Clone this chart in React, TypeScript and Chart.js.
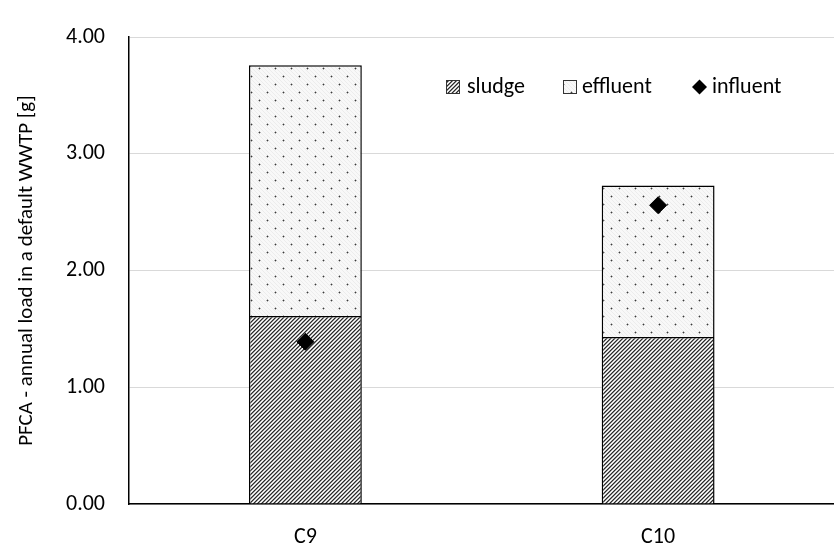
import React, { useEffect, useRef } from "react";
import { Chart, registerables } from "chart.js";

Chart.register(...registerables);

const categories = ["C9", "C10"];
const sludge = [1.61, 1.43];
const effluent = [2.15, 1.30];
const influent = [1.39, 2.56];
const yTicks = [0, 1, 2, 3, 4];
const yTitle = "PFCA - annual load in a default WWTP [g]";
const legendLabels = ["sludge", "effluent", "influent"];

const FONT = "Carlito, Calibri, Lato, sans-serif";

function makeSludgePattern(): CanvasPattern | string {
  const c = document.createElement("canvas");
  c.width = 8;
  c.height = 8;
  const ctx = c.getContext("2d");
  if (!ctx) return "#777";
  const shades = ["#2a2a2a", "#8a8a8a", "#ffffff", "#c8c8c8"];
  for (let x = 0; x < 8; x++) {
    for (let y = 0; y < 8; y++) {
      ctx.fillStyle = shades[(x + y) % 4];
      ctx.fillRect(x, y, 1, 1);
    }
  }
  return ctx.createPattern(c, "repeat") as CanvasPattern;
}

function makeEffluentPattern(): CanvasPattern | string {
  const c = document.createElement("canvas");
  c.width = 16;
  c.height = 16;
  const ctx = c.getContext("2d");
  if (!ctx) return "#f4f4f4";
  for (let x = 0; x < 16; x++) {
    for (let y = 0; y < 16; y++) {
      ctx.fillStyle = (x - y + 32) % 4 === 0 ? "#ececec" : "#f8f8f8";
      ctx.fillRect(x, y, 1, 1);
    }
  }
  const dot = (x: number, y: number) => {
    ctx.fillStyle = "#b0b0b0";
    ctx.fillRect(x - 1, y, 3, 1);
    ctx.fillRect(x, y - 1, 1, 3);
    ctx.fillStyle = "#3a3a3a";
    ctx.fillRect(x, y, 1, 1);
  };
  dot(3, 4);
  dot(11, 12);
  return ctx.createPattern(c, "repeat") as CanvasPattern;
}

export default function App() {
  const ref = useRef<HTMLCanvasElement | null>(null);

  useEffect(() => {
    document.body.style.overflow = "hidden";
    const canvas = ref.current;
    if (!canvas) return;
    const sludgeFill = makeSludgePattern();
    const effluentFill = makeEffluentPattern();

    const legendPlugin = {
      id: "customLegend",
      afterDraw(chart: any) {
        const ctx = chart.ctx;
        ctx.save();
        ctx.font = `22px ${FONT}`;
        ctx.textBaseline = "middle";
        ctx.textAlign = "left";
        const y = 87;
        const items = [
          { x: 446, tx: 467, label: legendLabels[0], kind: "sludge" },
          { x: 563, tx: 582, label: legendLabels[1], kind: "effluent" },
          { x: 692, tx: 712, label: legendLabels[2], kind: "influent" },
        ];
        for (const it of items) {
          if (it.kind === "influent") {
            ctx.fillStyle = "#000";
            ctx.beginPath();
            ctx.moveTo(it.x + 7.5, y - 7.5);
            ctx.lineTo(it.x + 15, y);
            ctx.lineTo(it.x + 7.5, y + 7.5);
            ctx.lineTo(it.x, y);
            ctx.closePath();
            ctx.fill();
          } else {
            ctx.fillStyle = it.kind === "sludge" ? sludgeFill : effluentFill;
            ctx.fillRect(it.x, y - 7, 14, 14);
            ctx.strokeStyle = "#333";
            ctx.lineWidth = 1;
            ctx.strokeRect(it.x + 0.5, y - 6.5, 13, 13);
          }
          ctx.fillStyle = "#000";
          ctx.fillText(it.label, it.tx, y);
        }
        ctx.restore();
      },
    };

    const chart = new Chart(canvas, {
      type: "bar",
      data: {
        labels: categories,
        datasets: [
          {
            type: "line" as const,
            label: legendLabels[2],
            data: influent,
            showLine: false,
            stack: "inf",
            pointStyle: "rectRot",
            pointRadius: 8.5,
            pointHoverRadius: 8.5,
            pointBackgroundColor: "#000",
            pointBorderColor: "#000",
            pointBorderWidth: 1,
            backgroundColor: "#000",
            borderColor: "#000",
            order: -1,
          },
          {
            label: legendLabels[0],
            data: sludge,
            backgroundColor: sludgeFill as any,
            borderColor: "#000",
            borderWidth: 1.5,
            stack: "s",
            barPercentage: 0.32,
            categoryPercentage: 1,
            order: 2,
          },
          {
            label: legendLabels[1],
            data: effluent,
            backgroundColor: effluentFill as any,
            borderColor: "#000",
            borderWidth: 1.5,
            stack: "s",
            barPercentage: 0.32,
            categoryPercentage: 1,
            order: 2,
          },
        ],
      },
      options: {
        animation: false,
        responsive: false,
        maintainAspectRatio: false,
        layout: { padding: { top: 18, left: 0, right: 0, bottom: 0 } },
        plugins: { legend: { display: false }, tooltip: { enabled: false } },
        scales: {
          x: {
            stacked: true,
            grid: { display: false, drawTicks: false },
            border: { display: true, color: "#000", width: 1.5 },
            ticks: { color: "#000", font: { family: FONT, size: 22 }, padding: 20 },
            afterFit: (s: any) => {
              s.height = 45;
            },
          },
          y: {
            stacked: true,
            min: yTicks[0],
            max: yTicks[yTicks.length - 1],
            afterBuildTicks: (s: any) => {
              s.ticks = yTicks.map((v) => ({ value: v }));
            },
            grid: { color: "#d9d9d9", lineWidth: 1, drawTicks: false },
            border: { display: true, color: "#000", width: 1.5 },
            ticks: {
              color: "#000",
              font: { family: FONT, size: 22 },
              padding: 24,
              callback: (v: any) => Number(v).toFixed(2),
            },
            title: {
              display: true,
              text: yTitle,
              color: "#000",
              font: { family: FONT, size: 21 },
              padding: { top: 14, bottom: 0 },
            },
            afterFit: (s: any) => {
              s.width = 129;
            },
          },
        },
      },
      plugins: [legendPlugin],
    });
    return () => chart.destroy();
  }, []);

  return (
    <div style={{ position: "absolute", left: 0, top: 0, width: 844, height: 549 }}>
      <canvas ref={ref} width={844} height={549} style={{ display: "block" }} />
    </div>
  );
}
